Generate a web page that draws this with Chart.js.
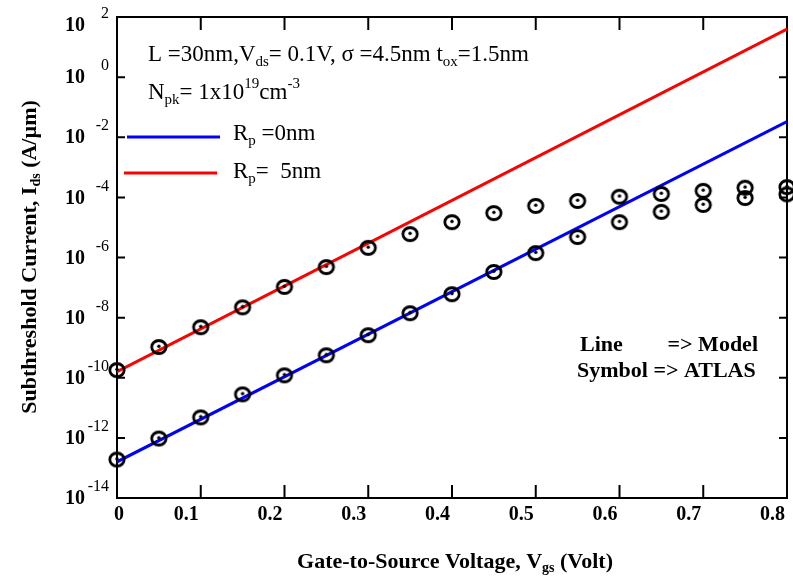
<!DOCTYPE html>
<html>
<head>
<meta charset="utf-8">
<title>Subthreshold current vs gate voltage</title>
<script src="https://cdn.jsdelivr.net/npm/chart.js@4.4.1/dist/chart.umd.min.js"></script>
<style>
  body { margin: 0; background: #fff; }
  #wrap { width: 793px; height: 578px; }
</style>
</head>
<body>
<div id="wrap"><canvas id="chart" width="793" height="578"></canvas></div>
<script>
/* Data */
const vgsAtlas = [0, 0.05, 0.1, 0.15, 0.2, 0.25, 0.3, 0.35, 0.4, 0.45, 0.5, 0.55, 0.6, 0.65, 0.7, 0.75, 0.8];
const idsAtlasRp0 = [1.9e-13, 9.5e-13, 4.8e-12, 2.8e-11, 1.2e-10, 5.6e-10, 2.6e-9, 1.4e-8, 6.0e-8, 3.3e-7,
                     1.4e-6, 4.8e-6, 1.5e-5, 3.3e-5, 5.6e-5, 9.5e-5, 1.26e-4];
const idsAtlasRp5 = [1.8e-10, 1.05e-9, 4.8e-9, 2.2e-8, 1.05e-7, 4.8e-7, 2.1e-6, 6.0e-6, 1.5e-5, 3.0e-5,
                     5.2e-5, 7.6e-5, 1.05e-4, 1.3e-4, 1.65e-4, 2.1e-4, 2.2e-4];
const vgsModel = [0, 0.8];
const idsModelRp0 = [1.6e-13, 3.3e-2];
const idsModelRp5 = [1.6e-10, 40];
const xTicks = [0, 0.1, 0.2, 0.3, 0.4, 0.5, 0.6, 0.7, 0.8];
const yTickExps = [2, 0, -2, -4, -6, -8, -10, -12, -14];

const SERIF = '"Liberation Serif", "Times New Roman", serif';

function pairs(xs, ys) {
  return xs.map((x, i) => ({ x: x, y: ys[i] }));
}

/* open circle with a dot in the middle */
function makeMarker() {
  const c = document.createElement('canvas');
  c.width = 20; c.height = 18;
  const g = c.getContext('2d');
  g.strokeStyle = '#000';
  g.lineWidth = 2.8;
  g.beginPath();
  g.ellipse(10, 9, 7.2, 6.5, 0, 0, Math.PI * 2);
  g.stroke();
  g.fillStyle = '#000';
  g.beginPath();
  g.arc(10, 8.2, 1.7, 0, Math.PI * 2);
  g.fill();
  return c;
}
const marker = makeMarker();

/* text with sub/superscripts: parts = [[text, 0 normal | 1 sub | 2 sup], ...] */
function richText(ctx, parts, x, y, size, weight, measureOnly) {
  let cx = x;
  parts.forEach(p => {
    const small = p[1] !== 0;
    ctx.font = weight + ' ' + (small ? Math.round(size * 0.65) : size) + 'px ' + SERIF;
    const dy = p[1] === 1 ? size * 0.3 : (p[1] === 2 ? -size * 0.38 : 0);
    if (!measureOnly) ctx.fillText(p[0], cx, y + dy);
    cx += ctx.measureText(p[0]).width;
  });
  return cx - x;
}

const axesPlugin = {
  id: 'axesPlugin',
  beforeDatasetsDraw(chart) {
    const { ctx, chartArea: a, scales: { x, y } } = chart;
    ctx.save();
    ctx.strokeStyle = '#000';
    ctx.lineWidth = 2;
    ctx.strokeRect(a.left, a.top, a.right - a.left, a.bottom - a.top);
    ctx.beginPath();
    xTicks.forEach(v => {
      const px = x.getPixelForValue(v);
      ctx.moveTo(px, a.bottom); ctx.lineTo(px, a.bottom - 13);
      ctx.moveTo(px, a.top); ctx.lineTo(px, a.top + 13);
    });
    yTickExps.forEach(e => {
      const py = y.getPixelForValue(Math.pow(10, e));
      ctx.moveTo(a.left, py); ctx.lineTo(a.left + 8, py);
      ctx.moveTo(a.right, py); ctx.lineTo(a.right - 8, py);
    });
    ctx.stroke();
    ctx.restore();
  },
  afterDraw(chart) {
    const { ctx, chartArea: a, scales: { x, y } } = chart;
    const ds = chart.data.datasets;
    ctx.save();
    ctx.fillStyle = '#000';
    ctx.textBaseline = 'middle';

    // x tick labels
    ctx.font = 'bold 20px ' + SERIF;
    xTicks.forEach(v => {
      const px = x.getPixelForValue(v);
      if (v === 0) {
        ctx.textAlign = 'center';
        ctx.fillText('0', px + 2, a.bottom + 17);
      } else {
        ctx.textAlign = 'right';
        ctx.fillText(v.toFixed(1), px - 2, a.bottom + 17);
      }
    });

    // y tick labels: 10 with exponent
    yTickExps.forEach(e => {
      const py = Math.max(y.getPixelForValue(Math.pow(10, e)), 25);
      ctx.font = 'bold 20px ' + SERIF;
      ctx.textAlign = 'center';
      ctx.fillText('10', 75, py + 1);
      ctx.font = '16px ' + SERIF;
      ctx.textAlign = 'right';
      ctx.fillText(String(e), 109, py - 11);
    });
    ctx.textAlign = 'left';

    // axis titles
    const xt = [['Gate-to-Source Voltage, V', 0], ['gs', 1], [' (Volt)', 0]];
    const xw = richText(ctx, xt, 0, 0, 22, 'bold', true);
    richText(ctx, xt, 455 - xw / 2, 562, 22, 'bold');

    const yt = [['Subthreshold Current, I', 0], ['ds', 1], [' (A/\u00b5m)', 0]];
    const yw = richText(ctx, yt, 0, 0, 22, 'bold', true);
    ctx.save();
    ctx.translate(30, 257);
    ctx.rotate(-Math.PI / 2);
    richText(ctx, yt, -yw / 2, 0, 22, 'bold');
    ctx.restore();

    // parameters
    richText(ctx, [['L =30nm,V', 0], ['ds', 1], ['= 0.1V, \u03c3 =4.5nm t', 0], ['ox', 1], ['=1.5nm', 0]],
      148, 55, 23, 'normal');
    richText(ctx, [['N', 0], ['pk', 1], ['= 1x10', 0], ['19', 2], ['cm', 0], ['-3', 2]],
      148, 93, 23, 'normal');

    // legend
    ctx.lineWidth = 3;
    ctx.strokeStyle = ds[2].borderColor;
    ctx.beginPath(); ctx.moveTo(127, 137); ctx.lineTo(220, 137); ctx.stroke();
    ctx.strokeStyle = ds[3].borderColor;
    ctx.beginPath(); ctx.moveTo(124, 173); ctx.lineTo(217, 173); ctx.stroke();
    richText(ctx, [['R', 0], ['p', 1], [' =0nm', 0]], 233, 134, 23, 'normal');
    richText(ctx, [['R', 0], ['p', 1], ['=  5nm', 0]], 233, 172, 23, 'normal');

    // line / symbol note
    ctx.font = 'bold 22px ' + SERIF;
    ctx.fillText('Line', 580, 345);
    ctx.textAlign = 'right';
    ctx.fillText('=> Model', 758, 345);
    ctx.textAlign = 'left';
    ctx.fillText('Symbol => ATLAS', 577, 371);
    ctx.restore();
  }
};

new Chart(document.getElementById('chart'), {
  type: 'line',
  data: {
    datasets: [
      {
        label: 'ATLAS Rp = 0nm',
        data: pairs(vgsAtlas, idsAtlasRp0),
        showLine: false,
        pointStyle: marker,
        clip: false
      },
      {
        label: 'ATLAS Rp = 5nm',
        data: pairs(vgsAtlas, idsAtlasRp5),
        showLine: false,
        pointStyle: marker,
        clip: false
      },
      {
        label: 'Rp = 0nm',
        data: pairs(vgsModel, idsModelRp0),
        borderColor: '#0000ff',
        borderWidth: 3,
        pointRadius: 0
      },
      {
        label: 'Rp = 5nm',
        data: pairs(vgsModel, idsModelRp5),
        borderColor: '#ff0000',
        borderWidth: 3,
        pointRadius: 0
      }
    ]
  },
  options: {
    responsive: false,
    animation: false,
    layout: { padding: { left: 117, right: 6, top: 17, bottom: 80 } },
    plugins: { legend: { display: false }, tooltip: { enabled: false } },
    scales: {
      x: { type: 'linear', min: 0, max: 0.8, display: false },
      y: { type: 'logarithmic', min: 1e-14, max: 1e2, display: false }
    }
  },
  plugins: [axesPlugin]
});
</script>
</body>
</html>
